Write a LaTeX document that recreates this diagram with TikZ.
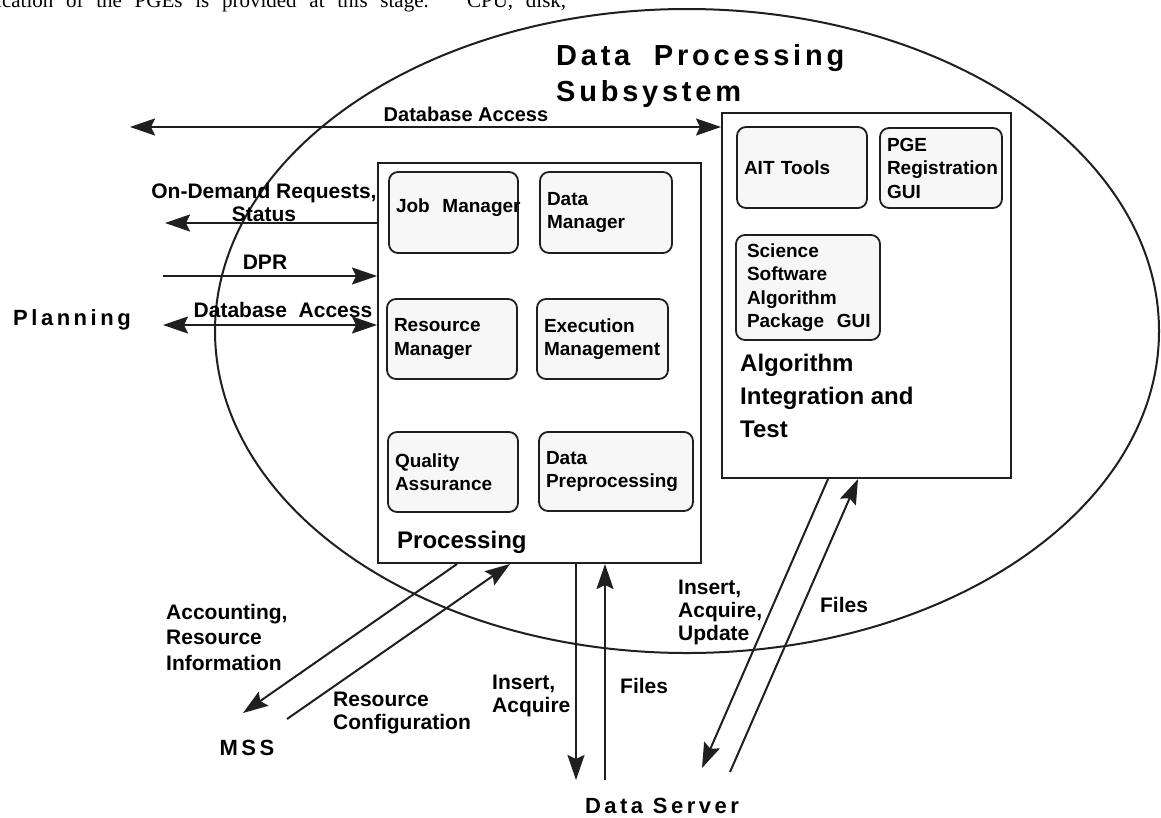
\documentclass[tikz,border=0pt]{standalone}
\usepackage{fontspec}
\setmainfont{Liberation Sans}
\newfontfamily\serifpage{Liberation Serif}
\newfontfamily\wideface[LetterSpace=16]{Liberation Sans}
\newfontfamily\titleface[LetterSpace=13]{Liberation Sans}
\usetikzlibrary{arrows.meta}

\tikzset{
  big/.tip={Stealth[length=25pt,width=17pt,inset=4pt]},
  ink/.style={line width=2pt, draw=black!88},
  flow/.style={ink, -big},
  twoway/.style={ink, big-big},
  panel/.style={ink, rectangle, inner sep=0pt},
  sbox/.style={ink, line width=1.8pt, rectangle, rounded corners=9pt,
    fill=black!3, inner xsep=7pt, inner ysep=0pt, align=left,
    font=\bfseries\fontsize{19}{23.5}\selectfont},
  lbl/.style={inner sep=0pt, font=\bfseries\fontsize{21}{23}\selectfont},
  title/.style={inner sep=0pt, font=\wideface\bfseries\fontsize{22}{26}\selectfont},
  heading/.style={inner sep=0pt, align=left, anchor=west,
    font=\bfseries\fontsize{24}{33}\selectfont},
}

\begin{document}
\begin{tikzpicture}[x=1pt,y=-1pt]
\useasboundingbox (0,0) rectangle (1161,817);
\fill[white] (0,0) rectangle (1161,817);

% running text of the page, cut by the top edge
\begin{scope}
  \clip (0,0) rectangle (1161,817);
  \node[anchor=base west, inner sep=0pt, font=\serifpage\fontsize{21}{24}\selectfont]
    (pageline) at (-4,7)
    {\makebox[570pt][s]{ication of the PGEs is provided at this stage.\ \ \ CPU, disk,}};
\end{scope}

% the subsystem boundary
\draw[ink] (687,331) ellipse [x radius=472, y radius=322];
\node[inner sep=0pt, align=left, anchor=north west,
      font=\titleface\bfseries\fontsize{29}{36}\selectfont]
  (dps) at (556,44) {Data\ \ Processing\\Subsystem};

% processing block
\node[panel, minimum width=323, minimum height=400] (proc) at (539.5,363) {};
\node[sbox, text width=115, minimum height=81] (job)  at (453.5,212.5)
  {\raisebox{14pt}{\mbox{Job\ \ Manager}}};
\node[sbox, text width=118, minimum height=81] (dmgr) at (606,212.5)   {Data\\Manager};
\node[sbox, text width=116, minimum height=80] (res)  at (452,339)     {Resource\\Manager};
\node[sbox, text width=117, minimum height=80] (exe)  at (602.5,339)   {Execution\\Management};
\node[sbox, text width=116, minimum height=80] (qa)   at (453,472)     {Quality\\Assurance};
\node[sbox, text width=140, minimum height=79] (prep) at (616,471.5)   {Data\\Preprocessing};
\node[heading] (proclbl) at (397,542) {Processing};

% algorithm integration and test block
\node[panel, minimum width=289, minimum height=365] (ait) at (866.5,295.5) {};
\node[sbox, text width=116, minimum height=81] (tools) at (802,167.5) {AIT Tools};
\node[sbox, text width=108, minimum height=80] (pge)   at (941,168) {PGE\\Registration\\GUI};
\node[sbox, inner xsep=11pt, text width=122, minimum height=105] (sci) at (808,287.5)
  {Science\\Software\\Algorithm\\\mbox{Package\ \ GUI}};
\node[heading] (aitlbl) at (740,396) {Algorithm\\Integration and\\Test};

% outside parties
\node[title, anchor=west] (plan) at (13,320) {Planning};
\node[title] (mss) at (247,748) {MSS};
\node[title] (dsrv) at (662,806) {Data Server};

% free ends of the connectors
\coordinate (dbTop)  at (130,127);
\coordinate (stat)   at (165,223);
\coordinate (dpr)    at (163,276);
\coordinate (dbLeft) at (163,325);
\coordinate (accA)   at (457,0);
\coordinate (accB)   at (243,713);
\coordinate (cfgA)   at (287,719);
\coordinate (cfgB)   at (510,0);
\coordinate (insA)   at (576,0);
\coordinate (insB)   at (576,780);
\coordinate (filA)   at (605,780);
\coordinate (updA)   at (828,0);
\coordinate (updB)   at (702,768);
\coordinate (fiaA)   at (730,772);
\coordinate (fiaB)   at (858,0);

% connectors
\draw[twoway] (dbTop) -- (dbTop -| ait.west);
\draw[flow] (stat -| proc.west) -- (stat);
\draw[flow] (dpr) -- (dpr -| proc.west);
\draw[twoway] (dbLeft) -- (dbLeft -| proc.west);
\draw[flow] (accA |- proc.south) -- (accB);
\draw[flow] (cfgA) -- (cfgB |- proc.south);
\draw[flow] (insA |- proc.south) -- (insB);
\draw[flow] (filA) -- (filA |- proc.south);
\draw[flow] (updA |- ait.south) -- (updB);
\draw[flow] (fiaA) -- (fiaB |- ait.south);

% connector labels
\node[lbl, font=\bfseries\fontsize{20}{23}\selectfont] (lDbTop) at (466,114) {Database Access};
\node[lbl, align=center] (lReq) at (264,202) {On-Demand Requests,\\Status};
\node[lbl] (lDpr) at (265,262) {DPR};
\node[lbl] (lDbLeft) at (283,310) {Database\ \ Access};
\node[lbl, align=left, anchor=west, font=\bfseries\fontsize{21}{25.5}\selectfont]
  (lAcc) at (166,637) {Accounting,\\Resource\\Information};
\node[lbl, align=left, anchor=west] (lCfg) at (333,713) {Resource\\Configuration};
\node[lbl, align=left, anchor=west] (lIns) at (492,696) {Insert,\\Acquire};
\node[lbl, anchor=west] (lFil) at (620,686) {Files};
\node[lbl, align=left, anchor=west] (lUpd) at (678,612) {Insert,\\Acquire,\\Update};
\node[lbl] (lFia) at (844,605) {Files};
\end{tikzpicture}
\end{document}
